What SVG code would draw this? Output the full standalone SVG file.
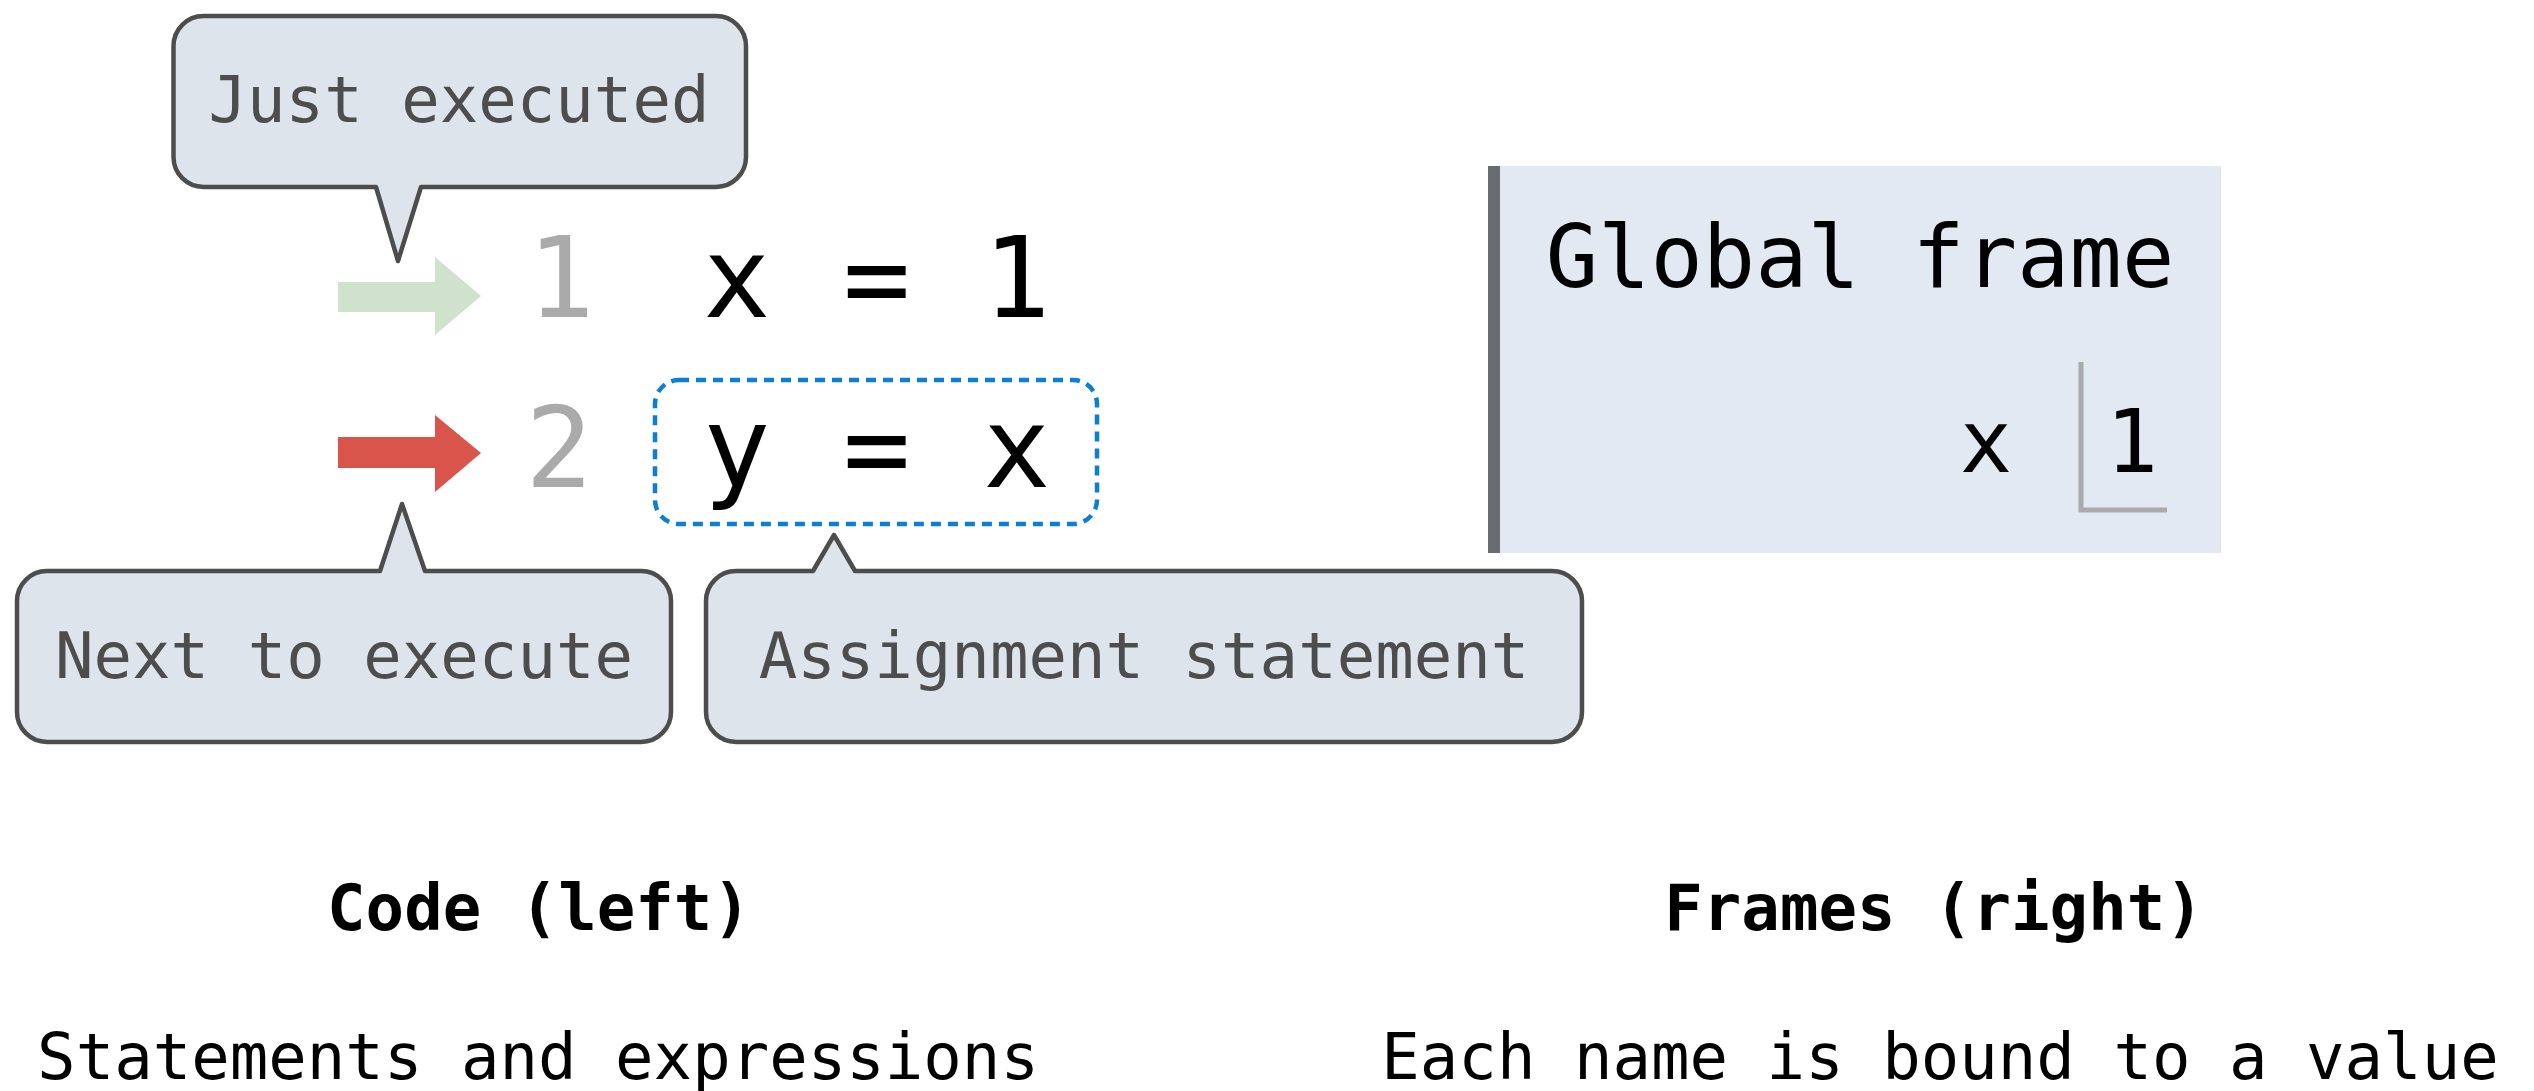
<svg xmlns="http://www.w3.org/2000/svg" width="2534" height="1091" viewBox="0 0 2534 1091">
<style>
.bubble{fill:#dde4eb;stroke:#4d4d4d;stroke-width:4.5;stroke-linejoin:round}
.btxt{font-family:"DejaVu Sans Mono","Liberation Mono",monospace;font-size:64px;fill:#4d4d4d;text-anchor:middle}
.code{font-family:"DejaVu Sans Mono","Liberation Mono",monospace;font-size:112px;fill:#000;letter-spacing:2.6px}
.lineno{font-family:"DejaVu Sans Mono","Liberation Mono",monospace;font-size:112px;fill:#aaaaaa;text-anchor:middle}
.frm{font-family:"DejaVu Sans Mono","Liberation Mono",monospace;font-size:87px;fill:#000;text-anchor:middle}
.cap{font-family:"DejaVu Sans Mono","Liberation Mono",monospace;font-size:64px;fill:#000;text-anchor:middle}
</style>
<rect width="2534" height="1091" fill="#ffffff"/>

<g id="bubble-just-executed">
<path class="bubble" d="M203.5 16 H716 A30 30 0 0 1 746 46 V157 A30 30 0 0 1 716 187 H421 L398 261 L376 187 H203.5 A30 30 0 0 1 173.5 157 V46 A30 30 0 0 1 203.5 16 Z"/>
<text class="btxt" x="459" y="122">Just executed</text>
</g>

<g id="code">
<text class="lineno" x="561" y="317">1</text>
<text class="code" x="703" y="317" xml:space="preserve">x = 1</text>
<text class="lineno" x="559" y="487">2</text>
<text class="code" x="703" y="487" xml:space="preserve">y = x</text>
</g>

<g id="assignment-highlight">
<rect x="655" y="380" width="442" height="144" rx="24" ry="24" fill="none" stroke="#0a7fd4" stroke-width="4.5" stroke-dasharray="10 7"/>
</g>

<g id="bubble-next-to-execute">
<path class="bubble" d="M47 571 H380 L402 504 L425 571 H641 A30 30 0 0 1 671 601 V712 A30 30 0 0 1 641 742 H47 A30 30 0 0 1 17 712 V601 A30 30 0 0 1 47 571 Z"/>
<text class="btxt" x="344" y="678">Next to execute</text>
</g>

<g id="bubble-assignment">
<path class="bubble" d="M736 571 H813 L834 535 L855 571 H1552 A30 30 0 0 1 1582 601 V712 A30 30 0 0 1 1552 742 H736 A30 30 0 0 1 706 712 V601 A30 30 0 0 1 736 571 Z"/>
<text class="btxt" x="1144" y="678">Assignment statement</text>
</g>

<g id="frame-global">
<rect x="1488" y="166" width="733" height="387" fill="#e2e9f3"/>
<rect x="1488" y="166" width="12" height="387" fill="#676d70"/>
<text class="frm" x="1860" y="287">Global frame</text>
<text class="frm" x="1986" y="472">x</text>
<path d="M2081 362 V510 H2167" fill="none" stroke="#aaaaaa" stroke-width="5"/>
<text class="frm" x="2132" y="472">1</text>
</g>

<g id="connectors">
<path id="arrow-just" d="M338 282 H435 V257 L481 296 L435 335 V312 H338 Z" fill="#cfe3cc"/>
<path id="arrow-next" d="M338 437 H435 V415 L481 453 L435 492 V468 H338 Z" fill="#d9544a"/>
</g>

<g id="captions">
<text class="cap" x="539" y="930" font-weight="bold">Code (left)</text>
<text class="cap" x="538" y="1079">Statements and expressions</text>
<text class="cap" x="1934" y="930" font-weight="bold">Frames (right)</text>
<text class="cap" x="1940" y="1079">Each name is bound to a value</text>
</g>
</svg>
